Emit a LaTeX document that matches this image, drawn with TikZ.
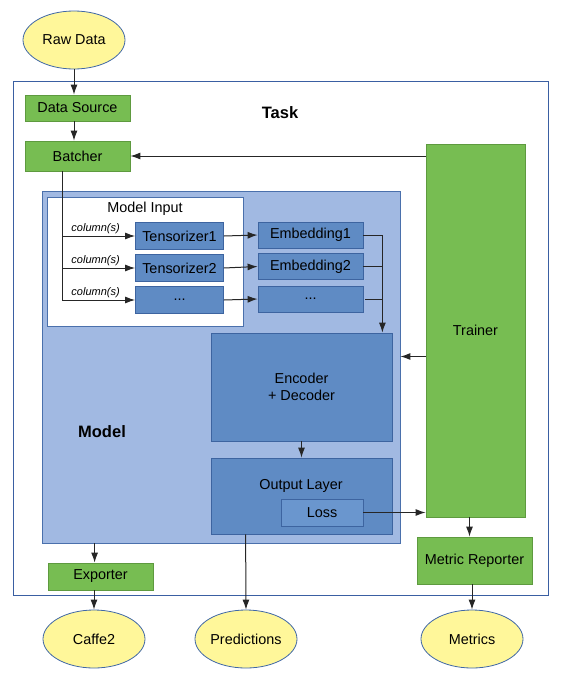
\documentclass[tikz,border=0pt]{standalone}
\usepackage{fontspec}
\setmainfont{Liberation Sans}
\usetikzlibrary{arrows.meta,shapes.geometric}
\definecolor{grfill}{HTML}{77BD52}
\definecolor{grline}{HTML}{5E9A3F}
\definecolor{blfill}{HTML}{5F8BC4}
\definecolor{blline}{HTML}{3D64A0}
\definecolor{lossfill}{HTML}{6A96CE}
\definecolor{mdfill}{HTML}{A1B9E2}
\definecolor{mdline}{HTML}{4A70AC}
\definecolor{yefill}{HTML}{FFF79A}
\definecolor{yeline}{HTML}{3F67A6}
\definecolor{tkline}{HTML}{3A5FA2}
\tikzset{
  txt/.style={font=\fontsize{14.4}{17}\selectfont},
  greenbox/.style={txt,draw=grline,fill=grfill,line width=0.8pt,inner sep=0pt},
  bluebox/.style={txt,draw=blline,fill=blfill,line width=0.8pt,inner sep=0pt},
  oval/.style={txt,ellipse,draw=yeline,fill=yefill,line width=0.8pt,inner sep=0pt,minimum width=102pt,minimum height=58pt},
  arr/.style={-{Latex[length=10pt,width=7pt]},line width=1pt,black!85},
  ln/.style={line width=1pt,black!85},
  colbl/.style={font=\fontsize{11}{13}\selectfont\itshape,inner sep=0pt},
  big/.style={font=\fontsize{16.5}{19}\selectfont\bfseries,inner sep=0pt}
}
\begin{document}
\begin{tikzpicture}[x=1pt,y=-1pt]
\useasboundingbox (0,0) rectangle (564,680);
% Task container
\node[draw=tkline,line width=0.8pt,minimum width=535pt,minimum height=514pt,inner sep=0pt] (task) at (280.5,338) {};
\node[big] (tasklbl) at (280,113) {Task};
% Model container
\node[draw=mdline,fill=mdfill,line width=0.8pt,minimum width=358pt,minimum height=352pt,inner sep=0pt] (model) at (221,367) {};
\node[big] (modellbl) at (102,432) {Model};
% Model input
\node[draw=mdline,fill=white,line width=0.8pt,minimum width=196pt,minimum height=129pt,inner sep=0pt] (minput) at (145,261.5) {};
\node[txt,inner sep=0pt] (milbl) at (145,209) {Model Input};
% top nodes
\node[oval] (raw) at (74,40) {Raw Data};
\node[greenbox,minimum width=105pt,minimum height=26pt] (ds) at (77.5,108) {Data Source};
\node[greenbox,minimum width=105pt,minimum height=30pt] (batcher) at (77.5,156) {Batcher};
\node[greenbox,minimum width=99pt,minimum height=373pt] (trainer) at (475.5,330.5) {Trainer};
% tensorizers and embeddings
\node[bluebox,minimum width=88pt,minimum height=27pt] (t1) at (179.5,236) {Tensorizer1};
\node[bluebox,minimum width=88pt,minimum height=27pt] (t2) at (179.5,268) {Tensorizer2};
\node[bluebox,minimum width=88pt,minimum height=27pt] (t3) at (179.5,300) {...};
\node[bluebox,minimum width=105pt,minimum height=26pt] (e1) at (310.5,235) {Embedding1};
\node[bluebox,minimum width=105pt,minimum height=26pt] (e2) at (310.5,266.5) {Embedding2};
\node[bluebox,minimum width=105pt,minimum height=26pt] (e3) at (310.5,299) {...};
% encoder, output
\node[bluebox,minimum width=181pt,minimum height=108pt,align=center] (enc) at (301.5,387) {Encoder\\+ Decoder};
\node[bluebox,minimum width=181pt,minimum height=76pt] (out) at (301.5,496) {};
\node[txt,inner sep=0pt] (outlbl) at (301,486) {Output Layer};
\node[txt,draw=blline,fill=lossfill,line width=0.8pt,inner sep=0pt,minimum width=82pt,minimum height=27pt] (loss) at (322,512.5) {Loss};
% bottom nodes
\node[greenbox,minimum width=105pt,minimum height=27pt] (exp) at (100.5,576.5) {Exporter};
\node[greenbox,minimum width=115pt,minimum height=47pt] (mr) at (474.5,560.5) {Metric Reporter};
\node[oval] (caffe) at (94,639) {Caffe2};
\node[oval] (pred) at (246,639) {Predictions};
\node[oval] (metrics) at (472,639) {Metrics};
% connectors
\draw[arr] (raw.south) -- (raw.south |- ds.north);
\draw[arr] (raw.south |- ds.south) -- (raw.south |- batcher.north);
\draw[arr] (trainer.west |- batcher.east) -- (batcher.east);
\coordinate (spine) at ([xshift=38pt]batcher.south west);
\draw[arr] (spine) |- (t3.west);
\draw[arr] (spine |- t1.west) -- (t1.west);
\draw[arr] (spine |- t2.west) -- (t2.west);
\node[colbl,anchor=south] (c1) at ([xshift=33pt,yshift=2pt]spine |- t1.west) {column(s)};
\node[colbl,anchor=south] (c2) at ([xshift=33pt,yshift=2pt]spine |- t2.west) {column(s)};
\node[colbl,anchor=south] (c3) at ([xshift=33pt,yshift=2pt]spine |- t3.west) {column(s)};
\draw[arr] (t1.east) -- (e1.west);
\draw[arr] (t2.east) -- (e2.west);
\draw[arr] (t3.east) -- (e3.west);
\coordinate (emx) at ([xshift=-10pt]enc.north east);
\draw[arr] (e1.east) -| (emx);
\draw[ln] (e2.east) -- (e2.east -| emx);
\draw[ln] ([xshift=2pt]e3.east) -- (e3.east -| emx);
\draw[arr] ([yshift=-26pt]trainer.west) -- ([yshift=-26pt]trainer.west -| model.east);
\draw[arr] (enc.south) -- (out.north);
\draw[arr] (loss.east) -- (loss.east -| trainer.west);
\draw[arr] ([xshift=-6pt]trainer.south) -- ([xshift=-6pt]trainer.south |- mr.north);
\draw[arr] (metrics.north |- mr.south) -- (metrics.north);
\draw[arr] ([xshift=35pt]out.south west) -- (pred.north);
\draw[arr] ([xshift=53pt]model.south west) -- ([xshift=53pt]model.south west |- exp.north);
\draw[arr] (caffe.north |- exp.south) -- (caffe.north);
\end{tikzpicture}
\end{document}
